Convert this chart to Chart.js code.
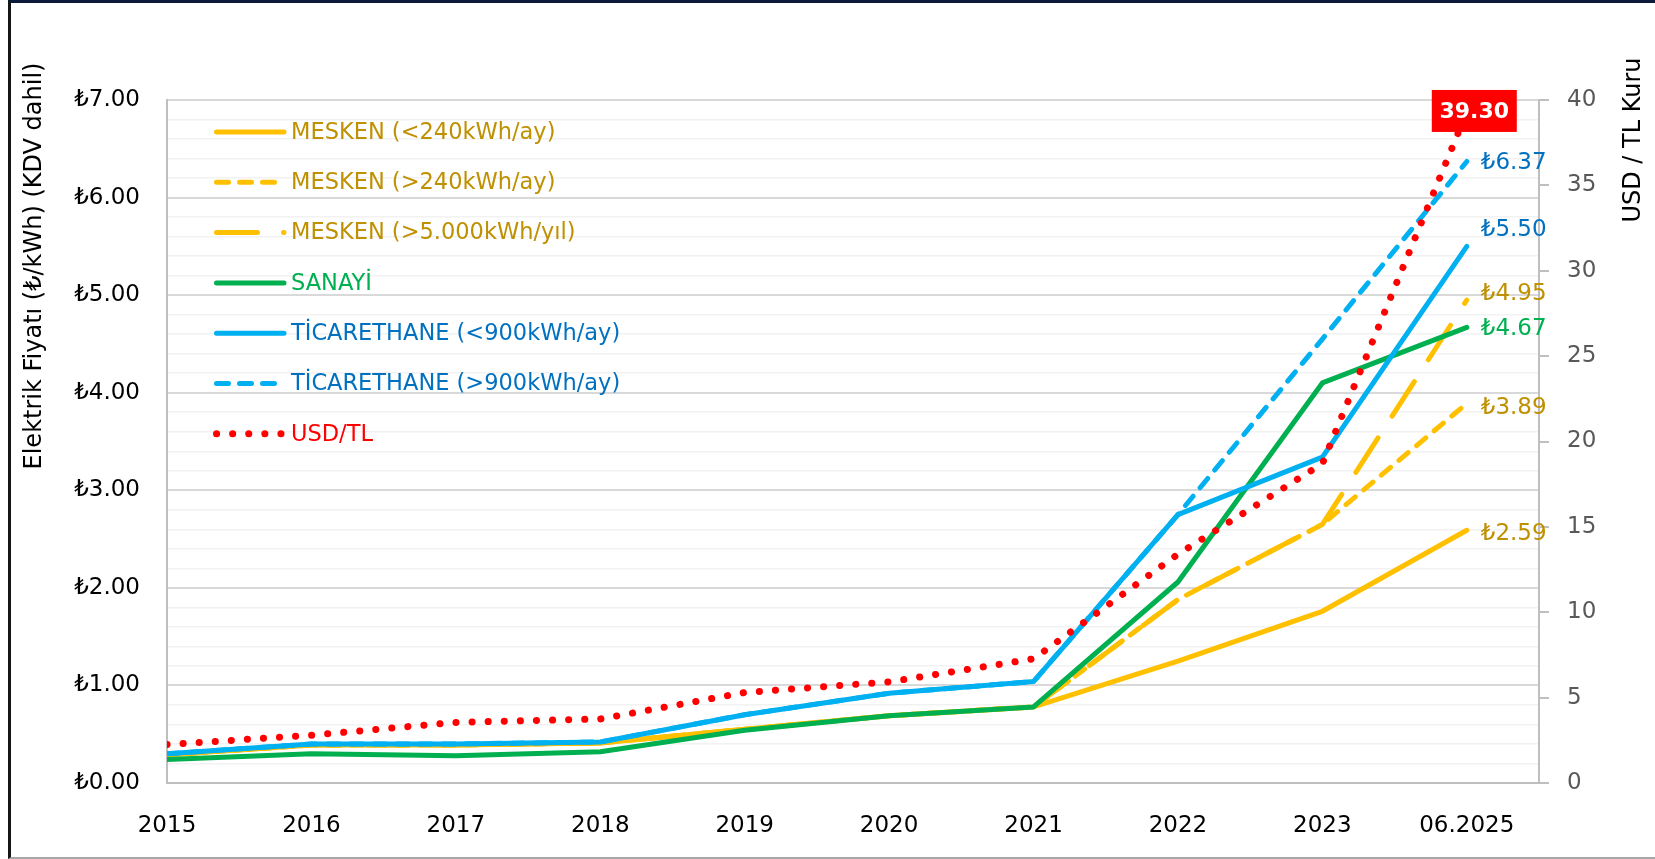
<!DOCTYPE html>
<html lang="tr">
<head>
<meta charset="utf-8">
<title>Elektrik Fiyatları ve USD/TL</title>
<script src="https://cdn.jsdelivr.net/npm/chart.js@4.4.1/dist/chart.umd.min.js"></script>
<style>
  html, body { margin: 0; padding: 0; background: #fff; }
  #frame {
    position: absolute; left: 8px; top: 0; width: 1647px; height: 859px; box-sizing: border-box;
    border-top: 3px solid #0c1a3a; border-left: 3px solid #151515; border-bottom: 2px solid #a6a6a6;
  }
  #chart { position: absolute; left: 0; top: 0; }
</style>
</head>
<body>
<div id="frame"></div>
<canvas id="chart" width="1655" height="859"></canvas>
<script>
const FONT = '"DejaVu Sans", "Noto Sans", sans-serif';

// x categories
const periods = ['2015', '2016', '2017', '2018', '2019', '2020', '2021', '2022', '2023', '06.2025'];

// ₺/kWh (left axis)
const meskenLow   = [0.29, 0.39, 0.39, 0.41, 0.55, 0.69, 0.78, 1.25, 1.76, 2.59];
const meskenHigh  = [0.29, 0.39, 0.39, 0.41, 0.55, 0.69, 0.78, 1.88, 2.65, 3.89];
const mesken5000  = [0.29, 0.39, 0.39, 0.41, 0.55, 0.69, 0.78, 1.88, 2.65, 4.95];
const sanayi      = [0.24, 0.30, 0.28, 0.32, 0.54, 0.69, 0.78, 2.06, 4.10, 4.67];
const ticLow      = [0.30, 0.40, 0.40, 0.42, 0.70, 0.92, 1.04, 2.75, 3.34, 5.50];
const ticHigh     = [0.30, 0.40, 0.40, 0.42, 0.70, 0.92, 1.04, 2.75, 4.55, 6.37];

// USD/TL (right axis)
const usdTl       = [2.25, 2.80, 3.55, 3.75, 5.30, 5.92, 7.27, 13.4, 18.7, 39.30];

const YELLOW = '#FFC000', GOLD = '#BF9000';
const GREEN  = '#00B050';
const BLUE   = '#00B0F0', DARKBLUE = '#0070C0';
const RED    = '#FF0000';

const pts = arr => arr.map((v, i) => ({ x: i, y: v }));
const isMajor = v => Math.abs(v - Math.round(v)) < 1e-6;

function line(label, data, color, labelColor, dash, labelDy, axis = 'y', width = 5) {
  return {
    label, data: pts(data),
    borderColor: color, backgroundColor: color, labelColor, labelDy,
    borderWidth: width, borderDash: dash, borderCapStyle: 'round', borderJoinStyle: 'round',
    pointRadius: 0, pointHoverRadius: 0, tension: 0, fill: false, yAxisID: axis,
  };
}

const datasets = [
  line('MESKEN (<240kWh/ay)',      meskenLow,  YELLOW, GOLD,     [],        4),
  line('MESKEN (>240kWh/ay)',      meskenHigh, YELLOW, GOLD,     [12, 11],  5),
  line('MESKEN (>5.000kWh/yıl)',   mesken5000, YELLOW, GOLD,     [41, 26], -6),
  line('SANAYİ',                   sanayi,     GREEN,  GREEN,    [],        2),
  line('TİCARETHANE (<900kWh/ay)', ticLow,     BLUE,   DARKBLUE, [],      -16),
  line('TİCARETHANE (>900kWh/ay)', ticHigh,    BLUE,   DARKBLUE, [12, 11],  2),
  line('USD/TL',                   usdTl,      RED,    RED,      [0.1, 16], 0, 'y1', 7),
];
// later series on top, like the source
datasets.forEach((d, i) => { d.order = datasets.length - i; });

function vertText(ctx, text, x, y) {
  ctx.save();
  ctx.fillStyle = '#000';
  ctx.font = `24px ${FONT}`;
  ctx.textAlign = 'center';
  ctx.textBaseline = 'middle';
  ctx.translate(x, y);
  ctx.rotate(-Math.PI / 2);
  ctx.fillText(text, 0, 0);
  ctx.restore();
}

const overlay = {
  id: 'overlay',
  afterDraw(chart) {
    const ctx = chart.ctx;

    vertText(ctx, 'Elektrik Fiyatı (₺/kWh) (KDV dahil)', 35, 266);
    vertText(ctx, 'USD / TL Kuru', 1634, 140);

    // legend in the top-left of the plot
    chart.data.datasets.forEach((ds, i) => {
      const y = 132 + i * 50.3;
      ctx.save();
      ctx.strokeStyle = ds.borderColor;
      ctx.lineWidth = ds.borderWidth;
      ctx.lineCap = 'round';
      ctx.setLineDash(ds.borderDash);
      ctx.beginPath();
      ctx.moveTo(216.5, y);
      ctx.lineTo(284, y);
      ctx.stroke();
      ctx.setLineDash([]);
      ctx.fillStyle = ds.labelColor;
      ctx.font = `22.5px ${FONT}`;
      ctx.textBaseline = 'middle';
      ctx.fillText(ds.label, 291, y + 1);
      ctx.restore();
    });

    // end-of-line value labels
    chart.data.datasets.forEach((ds, i) => {
      const meta = chart.getDatasetMeta(i);
      const p = meta.data[meta.data.length - 1];
      const v = ds.data[ds.data.length - 1].y;
      ctx.save();
      ctx.font = `23px ${FONT}`;
      ctx.textBaseline = 'middle';
      if (ds.yAxisID === 'y1') {
        ctx.fillStyle = RED;
        ctx.fillRect(p.x - 35, p.y - 22, 85, 42);
        ctx.fillStyle = '#fff';
        ctx.font = `bold 22px ${FONT}`;
        ctx.textAlign = 'center';
        ctx.fillText(v.toFixed(2), p.x + 7.5, p.y);
      } else {
        ctx.fillStyle = ds.labelColor;
        ctx.fillText('₺' + v.toFixed(2), p.x + 14, p.y + ds.labelDy);
      }
      ctx.restore();
    });
  }
};

new Chart(document.getElementById('chart'), {
  type: 'line',
  data: { datasets },
  plugins: [overlay],
  options: {
    responsive: false,
    animation: false,
    devicePixelRatio: 1,
    layout: { padding: { top: 100, left: 0, right: 0, bottom: 0 } },
    plugins: { legend: { display: false }, tooltip: { enabled: false } },
    scales: {
      x: {
        type: 'linear', min: 0, max: 9.5,
        afterBuildTicks: s => { s.ticks = periods.map((_, i) => ({ value: i })); },
        afterFit: s => { s.height = 76; },
        ticks: {
          callback: v => periods[v], autoSkip: false, maxRotation: 0,
          color: '#000', font: { family: FONT, size: 23 }, padding: 29,
        },
        grid: { display: false, drawTicks: false },
        border: { color: '#bfbfbf', width: 2 },
      },
      y: {
        position: 'left', min: 0, max: 7,
        afterBuildTicks: s => {
          s.ticks = [];
          for (let k = 0; k <= 35; k++) s.ticks.push({ value: k / 5 });
        },
        afterFit: s => { s.width = 167; },
        ticks: {
          autoSkip: false,
          callback: v => isMajor(v) ? '₺' + v.toFixed(2) : '',
          color: '#000', font: { family: FONT, size: 23 }, padding: 27,
        },
        grid: {
          drawTicks: false,
          color: c => isMajor(c.tick.value) ? '#d9d9d9' : '#f2f2f2',
          lineWidth: c => isMajor(c.tick.value) ? 2 : 1.5,
        },
        border: { color: '#bfbfbf', width: 2 },
      },
      y1: {
        position: 'right', min: 0, max: 40,
        afterFit: s => { s.width = 116; },
        ticks: { stepSize: 5, color: '#595959', font: { family: FONT, size: 23 }, padding: 18 },
        grid: { drawOnChartArea: false, drawTicks: true, tickLength: 10, tickColor: '#bfbfbf', lineWidth: 2 },
        border: { color: '#bfbfbf', width: 2 },
      },
    },
  },
});
</script>
</body>
</html>
